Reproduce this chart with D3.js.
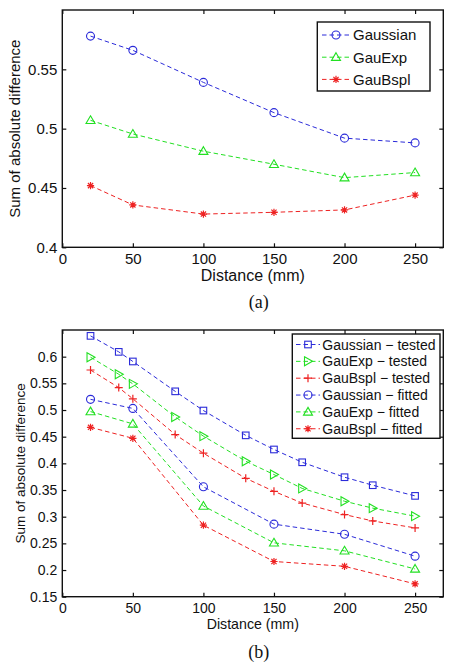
<!DOCTYPE html>
<html><head><meta charset="utf-8">
<script src="https://cdn.jsdelivr.net/npm/d3@7"></script>
<style>
body{margin:0;background:#fff;}
svg{display:block;font-family:"Liberation Sans",Arial,sans-serif;}
</style></head>
<body>
<svg id="c" width="454" height="672"></svg>
<script>
// ---------- DATA ----------
const xA = [20, 50, 100, 150, 200, 250];
const aGaussian = [0.578, 0.566, 0.539, 0.5135, 0.492, 0.488];
const aGauExp   = [0.507, 0.4955, 0.481, 0.470, 0.4587, 0.463];
const aGauBspl  = [0.452, 0.4357, 0.428, 0.4295, 0.4315, 0.444];
const aNames = ["Gaussian", "GauExp", "GauBspl"];

const xTested = [20, 40, 50, 80, 100, 130, 150, 170, 200, 220, 250];
const bGaussianTested = [0.639, 0.609, 0.591, 0.535, 0.499, 0.4525, 0.426, 0.402, 0.374, 0.359, 0.339];
const bGauExpTested   = [0.599, 0.567, 0.549, 0.487, 0.451, 0.404, 0.379, 0.353, 0.329, 0.316, 0.301];
const bGauBsplTested  = [0.575, 0.542, 0.521, 0.454, 0.419, 0.372, 0.3475, 0.3256, 0.304, 0.292, 0.279];
const xFitted = [20, 50, 100, 150, 200, 250];
const bGaussianFitted = [0.520, 0.503, 0.356, 0.286, 0.267, 0.226];
const bGauExpFitted   = [0.497, 0.474, 0.320, 0.251, 0.236, 0.202];
const bGauBsplFitted  = [0.4675, 0.447, 0.284, 0.216, 0.207, 0.174];
const bNames = ["Gaussian \u2212 tested", "GauExp \u2212 tested", "GauBspl \u2212 tested",
                "Gaussian \u2212 fitted", "GauExp \u2212 fitted", "GauBspl \u2212 fitted"];

const xTicks = [0, 50, 100, 150, 200, 250];
const aYTicks = [0.4, 0.45, 0.5, 0.55];
const bYTicks = [0.15, 0.2, 0.25, 0.3, 0.35, 0.4, 0.45, 0.5, 0.55, 0.6];
const yLabel = "Sum of absolute difference";
const xLabel = "Distance (mm)";

// ---------- STYLE ----------
const BLUE = "#2b2bd9", GREEN = "#22e022", RED = "#ee2222";

const svg = d3.select("#c");

function marker(g, type, color) {
  const s = 4;
  if (type === "circle") {
    g.append("circle").attr("r", 4).attr("fill", "none").attr("stroke", color).attr("stroke-width", 1.1);
  } else if (type === "triangle") {
    g.append("path").attr("d", `M0,${-4.5}L${4.5},${3.2}L${-4.5},${3.2}Z`).attr("fill", "none").attr("stroke", color).attr("stroke-width", 1.1);
  } else if (type === "rtriangle") {
    g.append("path").attr("d", `M${-3.5},${-4.5}L${4.5},0L${-3.5},${4.5}Z`).attr("fill", "none").attr("stroke", color).attr("stroke-width", 1.1);
  } else if (type === "square") {
    g.append("rect").attr("x", -3.3).attr("y", -3.3).attr("width", 6.6).attr("height", 6.6).attr("fill", "none").attr("stroke", color).attr("stroke-width", 1.1);
  } else if (type === "plus") {
    g.append("path").attr("d", `M${-s},0L${s},0M0,${-s}L0,${s}`).attr("stroke", color).attr("stroke-width", 1.2);
  } else if (type === "star") {
    const d = 3.6, e = 2.6;
    g.append("path").attr("d", `M${-d},0L${d},0M0,${-d}L0,${d}M${-e},${-e}L${e},${e}M${-e},${e}L${e},${-e}`).attr("stroke", color).attr("stroke-width", 1.2);
  }
}

function panel(opts) {
  const {left, top, right, bottom, xDomain, yDomain, yTicks, yFmt, series, fs, legend, caption, captionY, xLabelY, yLabelX} = opts;
  const x = d3.scaleLinear().domain(xDomain).range([left, right]);
  const y = d3.scaleLinear().domain(yDomain).range([bottom, top]);
  const g = svg.append("g");

  const line = d3.line().x(d => x(d[0])).y(d => y(d[1]));
  series.forEach(s => {
    const pts = s.x.map((xv, i) => [xv, s.y[i]]);
    g.append("path").datum(pts).attr("d", line).attr("fill", "none")
      .attr("stroke", s.color).attr("stroke-width", 1).attr("stroke-dasharray", "4.5,3");
    pts.forEach(p => {
      const m = g.append("g").attr("transform", `translate(${x(p[0])},${y(p[1])})`);
      marker(m, s.marker, s.color);
    });
  });

  g.append("rect").attr("x", left).attr("y", top).attr("width", right - left).attr("height", bottom - top)
    .attr("fill", "none").attr("stroke", "#111").attr("stroke-width", 1.4);

  const tl = 4;
  const axB = d3.axisBottom(x).tickValues(xTicks).tickSize(-tl).tickPadding(6).tickFormat(d3.format("d"));
  const gxb = g.append("g").attr("transform", `translate(0,${bottom})`).call(axB);
  const axT = d3.axisTop(x).tickValues(xTicks).tickSize(-tl).tickFormat("");
  const gxt = g.append("g").attr("transform", `translate(0,${top})`).call(axT);
  const axL = d3.axisLeft(y).tickValues(yTicks).tickSize(-tl).tickPadding(5).tickFormat(yFmt);
  const gyl = g.append("g").attr("transform", `translate(${left},0)`).call(axL);
  const axR = d3.axisRight(y).tickValues(yTicks).tickSize(-tl).tickFormat("");
  const gyr = g.append("g").attr("transform", `translate(${right},0)`).call(axR);
  [gxb, gxt, gyl, gyr].forEach(a => {
    a.select(".domain").remove();
    a.selectAll(".tick line").attr("stroke", "#111").attr("stroke-width", 1.2);
    a.selectAll("text").attr("font-size", fs).attr("fill", "#111")
      .attr("font-family", '"Liberation Sans",Arial,sans-serif');
  });

  g.append("text").attr("x", (left + right) / 2).attr("y", xLabelY).attr("text-anchor", "middle")
    .attr("font-size", opts.xlfs).attr("fill", "#111").text(xLabel);
  g.append("text").attr("transform", `translate(${yLabelX},${(top + bottom) / 2}) rotate(-90)`)
    .attr("text-anchor", "middle").attr("font-size", opts.ylfs).attr("fill", "#111").text(yLabel);

  const L = legend;
  g.append("rect").attr("x", L.x).attr("y", L.y).attr("width", L.w).attr("height", L.h)
    .attr("fill", "#fff").attr("stroke", "#111").attr("stroke-width", 1.4);
  series.forEach((s, i) => {
    const ry = L.y0 + i * L.dy;
    g.append("line").attr("x1", L.lx1).attr("x2", L.lx2).attr("y1", ry).attr("y2", ry)
      .attr("stroke", s.color).attr("stroke-width", 1).attr("stroke-dasharray", "4.5,3");
    const m = g.append("g").attr("transform", `translate(${(L.lx1 + L.lx2) / 2},${ry})`);
    marker(m, s.marker, s.color);
    g.append("text").attr("x", L.tx).attr("y", ry).attr("dy", "0.36em").attr("font-size", L.fs)
      .attr("fill", "#111").text(s.name);
  });

  g.append("text").attr("x", (left + right) / 2 + 6).attr("y", captionY).attr("text-anchor", "middle")
    .attr("font-family", '"Liberation Serif","Times New Roman",serif').attr("font-size", 18)
    .attr("fill", "#111").text(caption);
}

panel({
  left: 62.3, top: 10, right: 443.3, bottom: 247.3,
  xDomain: [0, 270], yDomain: [0.4, 0.6], yTicks: aYTicks, yFmt: d3.format(""),
  fs: 15, ylfs: 15, xlfs: 16, xLabelY: 281, yLabelX: 20,
  series: [
    {name: aNames[0], x: xA, y: aGaussian, color: BLUE, marker: "circle"},
    {name: aNames[1], x: xA, y: aGauExp, color: GREEN, marker: "triangle"},
    {name: aNames[2], x: xA, y: aGauBspl, color: RED, marker: "star"}
  ],
  legend: {x: 317.3, y: 22, w: 112.7, h: 69, y0: 35, dy: 22.2, lx1: 322, lx2: 350, tx: 353, fs: 15},
  caption: "(a)", captionY: 308
});

panel({
  left: 62.3, top: 330, right: 443.3, bottom: 596.7,
  xDomain: [0, 270], yDomain: [0.15, 0.65], yTicks: bYTicks, yFmt: d3.format(""),
  fs: 14, ylfs: 13.5, xlfs: 14.2, xLabelY: 628.5, yLabelX: 25,
  series: [
    {name: bNames[0], x: xTested, y: bGaussianTested, color: BLUE, marker: "square"},
    {name: bNames[1], x: xTested, y: bGauExpTested, color: GREEN, marker: "rtriangle"},
    {name: bNames[2], x: xTested, y: bGauBsplTested, color: RED, marker: "plus"},
    {name: bNames[3], x: xFitted, y: bGaussianFitted, color: BLUE, marker: "circle"},
    {name: bNames[4], x: xFitted, y: bGauExpFitted, color: GREEN, marker: "triangle"},
    {name: bNames[5], x: xFitted, y: bGauBsplFitted, color: RED, marker: "star"}
  ],
  legend: {x: 292.3, y: 334, w: 147.7, h: 104.3, y0: 344.5, dy: 16.85, lx1: 296, lx2: 320, tx: 322.3, fs: 14},
  caption: "(b)", captionY: 658
});
</script>
</body></html>
